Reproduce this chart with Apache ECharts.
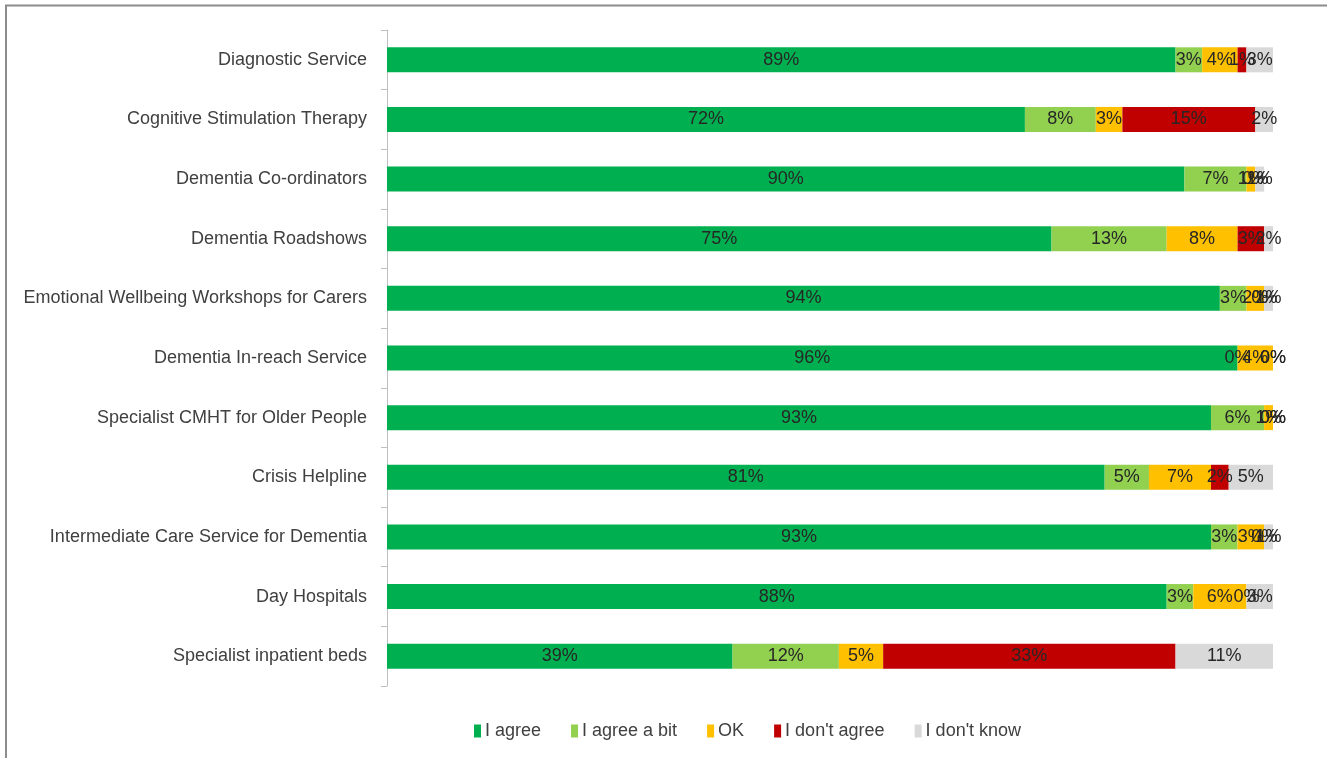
<!DOCTYPE html>
<html>
<head>
<meta charset="utf-8">
<style>
  html, body { margin: 0; padding: 0; background: #ffffff; }
  #chart { width: 1327px; height: 758px; }
</style>
<script src="https://cdn.jsdelivr.net/npm/echarts@6/dist/echarts.min.js"></script>
</head>
<body>
<div id="chart"></div>
<script>
// Services, top to bottom
const services = [
  'Diagnostic Service',
  'Cognitive Stimulation Therapy',
  'Dementia Co-ordinators',
  'Dementia Roadshows',
  'Emotional Wellbeing Workshops for Carers',
  'Dementia In-reach Service',
  'Specialist CMHT for Older People',
  'Crisis Helpline',
  'Intermediate Care Service for Dementia',
  'Day Hospitals',
  'Specialist inpatient beds'
];

// Percentage of responses per answer, one value per service
const agree      = [89, 72, 90, 75, 94, 96, 93, 81, 93, 88, 39];
const agreeABit  = [3, 8, 7, 13, 3, 0, 6, 5, 3, 3, 12];
const ok         = [4, 3, 1, 8, 2, 4, 1, 7, 3, 6, 5];
const disagree   = [1, 15, 0, 3, 0, 0, 0, 2, 0, 0, 33];
const dontKnow   = [3, 2, 1, 2, 1, 0, 0, 5, 1, 3, 11];

const seriesDefs = [
  { name: 'I agree',       data: agree,     color: '#00B050' },
  { name: 'I agree a bit', data: agreeABit, color: '#92D050' },
  { name: 'OK',            data: ok,        color: '#FFC000' },
  { name: "I don't agree", data: disagree,  color: '#C00000' },
  { name: "I don't know",  data: dontKnow,  color: '#D9D9D9' }
];

const FONT = '"Liberation Sans", Arial, sans-serif';

const chart = echarts.init(document.getElementById('chart'), null, { renderer: 'canvas' });

chart.setOption({
  backgroundColor: '#ffffff',
  animation: false,
  // chart frame: top and left edges fall inside the page
  graphic: [{
    type: 'rect',
    shape: { x: 6, y: 5.5, width: 1400, height: 800 },
    style: { fill: 'none', stroke: '#8c8c8c', lineWidth: 2 },
    silent: true
  }],
  grid: { left: 387, right: 54, top: 30, bottom: 72 },
  legend: {
    bottom: 13,
    left: 469,
    itemWidth: 7,
    itemHeight: 13,
    itemGap: 30,
    icon: 'rect',
    textStyle: { fontFamily: FONT, fontSize: 18, color: '#404040', padding: [0, 0, 0, -1] },
    data: seriesDefs.map(s => s.name)
  },
  xAxis: {
    type: 'value',
    min: 0,
    max: 100,
    show: false
  },
  yAxis: {
    type: 'category',
    inverse: true,
    data: services,
    axisLine: { show: true, lineStyle: { color: '#bfbfbf', width: 1 } },
    axisTick: { show: true, length: 6, lineStyle: { color: '#bfbfbf' } },
    axisLabel: { fontFamily: FONT, fontSize: 18, color: '#404040', margin: 20 }
  },
  series: seriesDefs.map(s => ({
    name: s.name,
    type: 'bar',
    stack: 'total',
    barWidth: 25,
    data: s.data,
    itemStyle: { color: s.color },
    label: {
      show: true,
      position: 'inside',
      formatter: p => p.value + '%',
      fontFamily: FONT,
      fontSize: 18,
      color: '#262626'
    },
    labelLayout: { hideOverlap: false }
  }))
});
</script>
</body>
</html>
